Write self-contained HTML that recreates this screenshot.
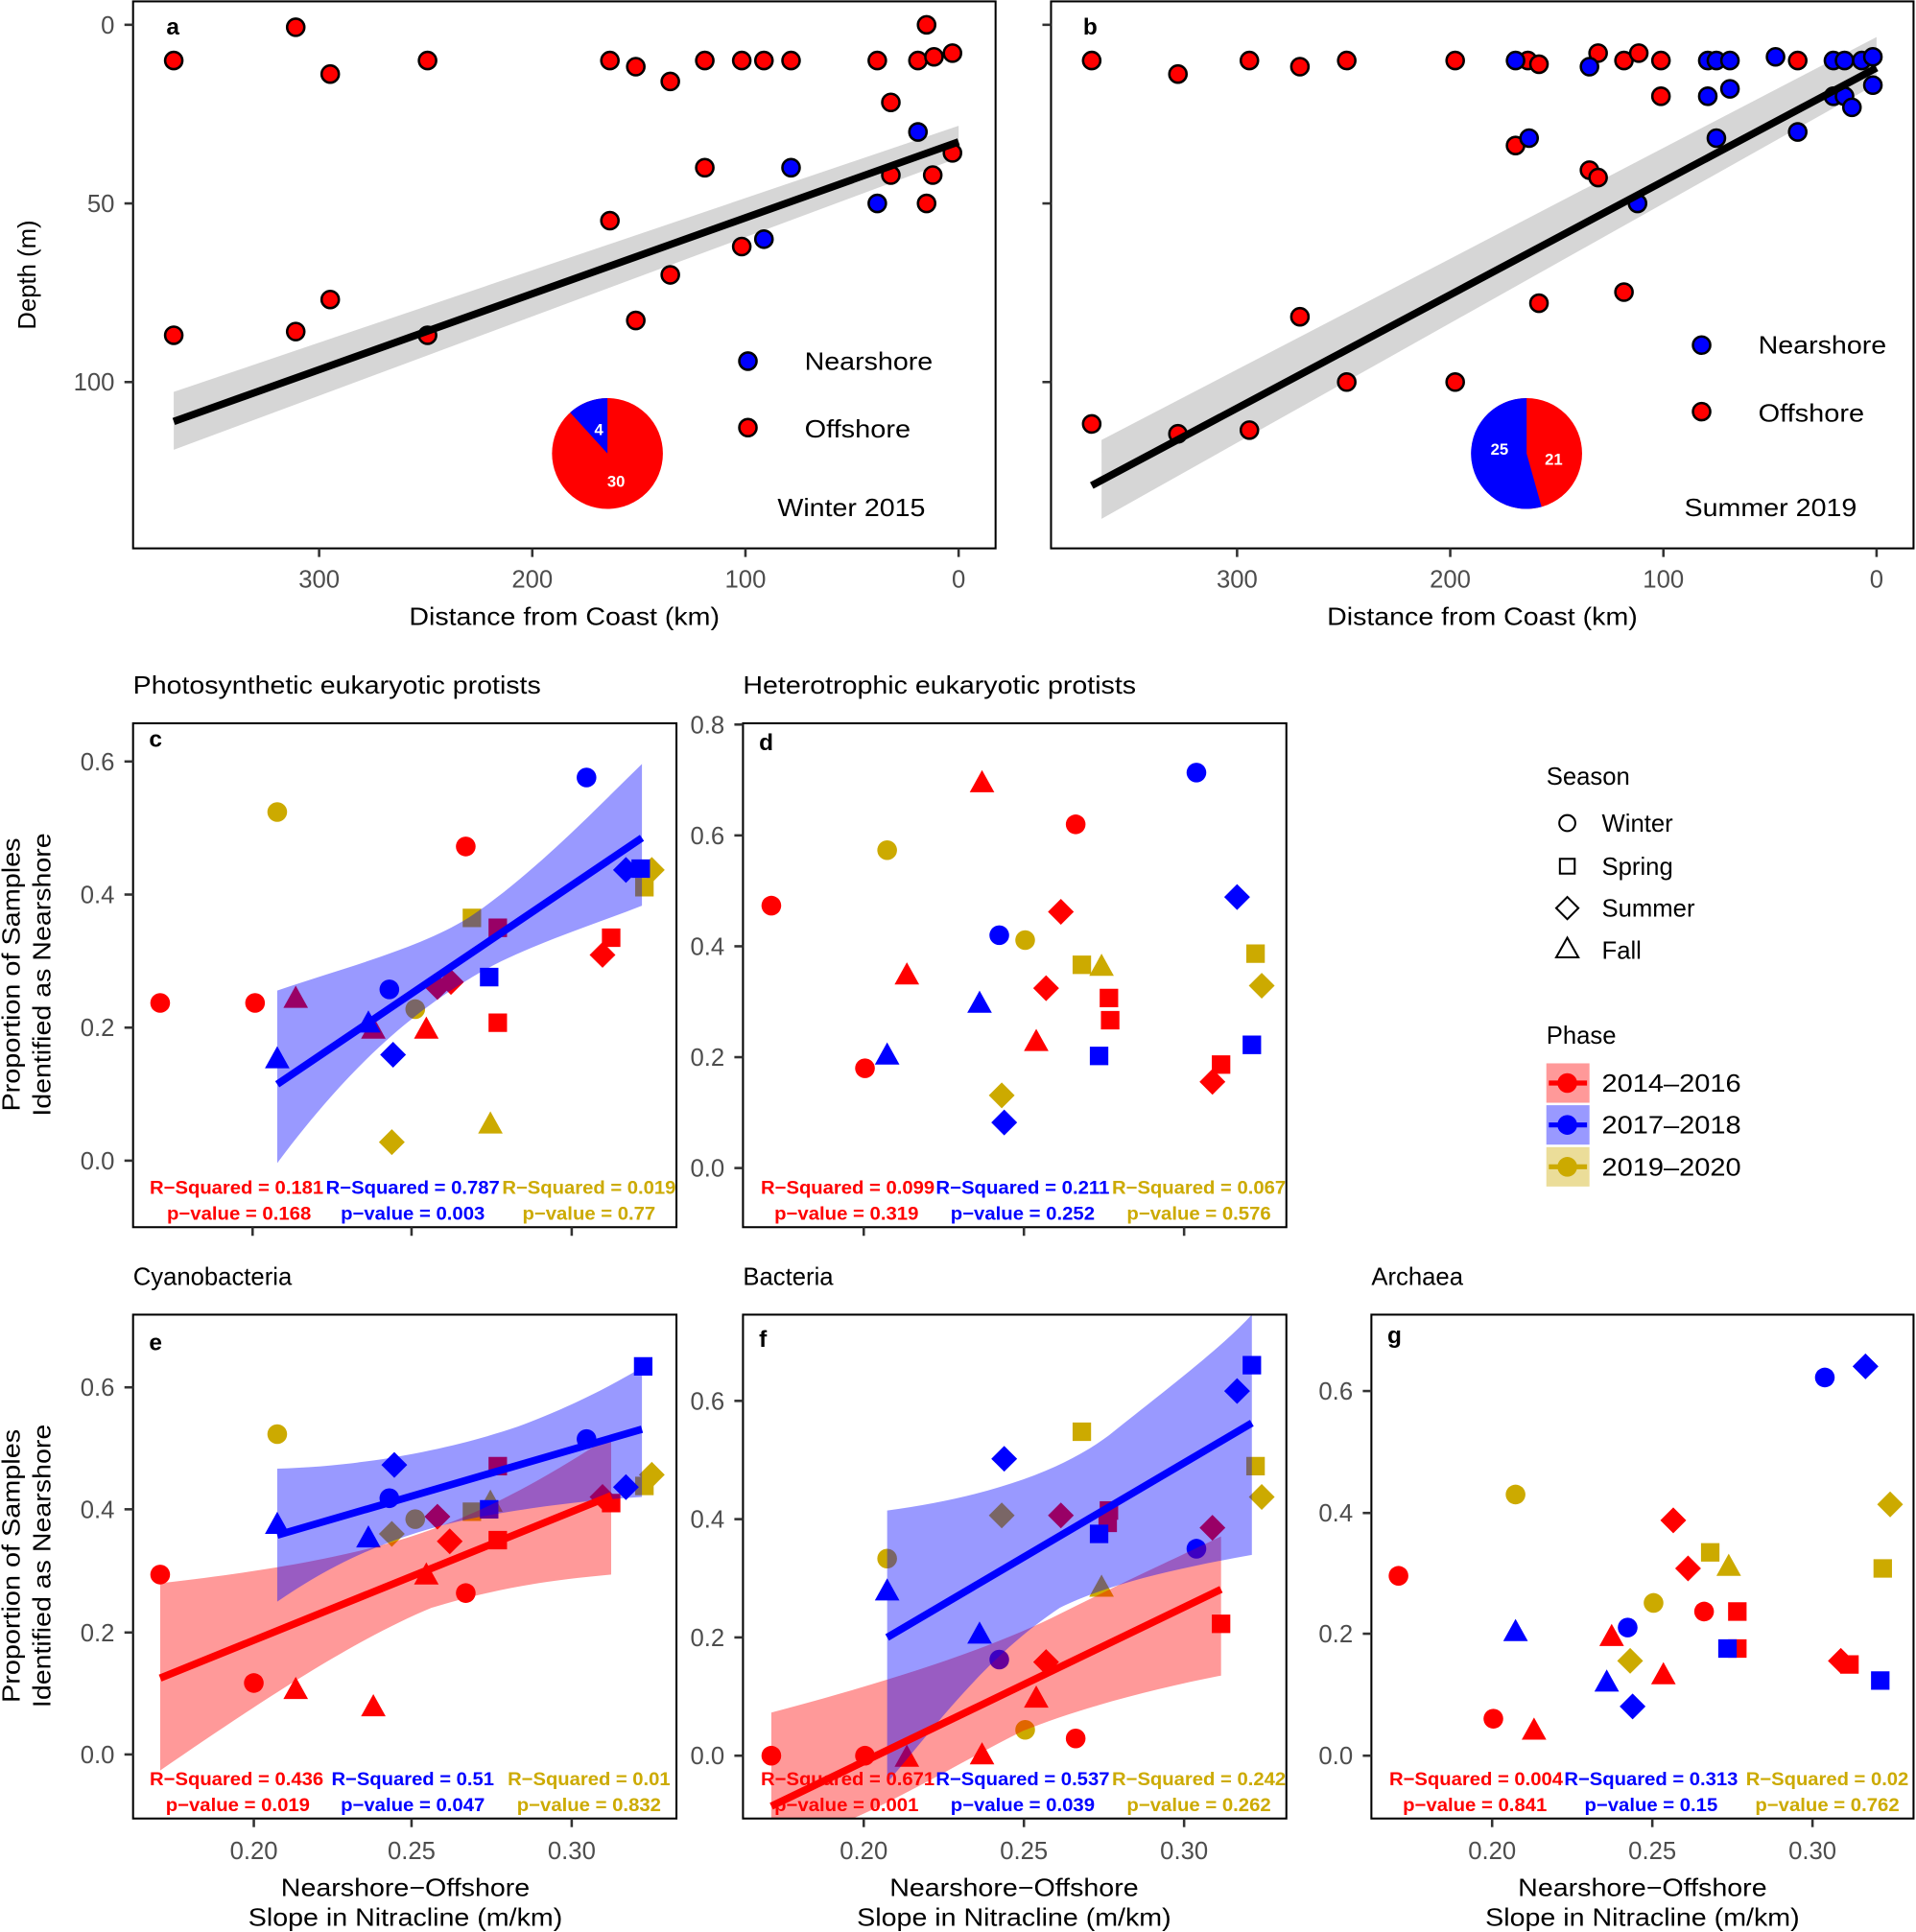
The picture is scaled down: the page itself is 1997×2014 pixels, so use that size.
<!DOCTYPE html>
<html><head><meta charset="utf-8"><style>
html,body{margin:0;padding:0;background:#fff}
svg{display:block}
text{font-family:"Liberation Sans",Arial,sans-serif}
.tk{font-size:20px;fill:#4d4d4d}
.at{font-size:20px;fill:#000}
.pl{font-size:19px;font-weight:bold;fill:#000}
.st{font-size:15px;font-weight:bold}
</style></head><body>
<svg width="1997" height="2014" viewBox="0 0 1555 1568" xmlns="http://www.w3.org/2000/svg">
<defs>
<path id="o" d="M-8,0a8,8 0 1,0 16,0a8,8 0 1,0 -16,0Z"/>
<path id="s" d="M-7.5,-7.5h15v15h-15Z"/>
<path id="d" d="M0,-10.5L10.5,0L0,10.5L-10.5,0Z"/>
<path id="t" d="M0,-11L10,7L-10,7Z"/>
<clipPath id="cf"><rect x="603" y="1067" width="441" height="409"/></clipPath>
</defs>
<rect width="1555" height="1568" fill="#fff"/>

<!-- ===== Panel a ===== -->
<g>
<polygon points="141,318 778,102 778,128 141,365" fill="#d6d6d6"/>
<g stroke="#000" stroke-width="2" fill="#f00">
<circle cx="141" cy="49" r="7"/><circle cx="240" cy="22" r="7"/><circle cx="268" cy="60" r="7"/><circle cx="347" cy="49" r="7"/>
<circle cx="495" cy="49" r="7"/><circle cx="516" cy="54" r="7"/><circle cx="544" cy="66" r="7"/><circle cx="572" cy="49" r="7"/>
<circle cx="602" cy="49" r="7"/><circle cx="620" cy="49" r="7"/><circle cx="642" cy="49" r="7"/><circle cx="712" cy="49" r="7"/>
<circle cx="723" cy="83" r="7"/><circle cx="745" cy="49" r="7"/><circle cx="752" cy="20" r="7"/><circle cx="758" cy="46" r="7"/>
<circle cx="773" cy="43" r="7"/><circle cx="773" cy="124" r="7"/><circle cx="723" cy="142" r="7"/><circle cx="757" cy="142" r="7"/>
<circle cx="752" cy="165" r="7"/><circle cx="572" cy="136" r="7"/><circle cx="495" cy="179" r="7"/><circle cx="602" cy="200" r="7"/>
<circle cx="544" cy="223" r="7"/><circle cx="268" cy="243" r="7"/><circle cx="240" cy="269" r="7"/><circle cx="141" cy="272" r="7"/>
<circle cx="347" cy="272" r="7"/><circle cx="516" cy="260" r="7"/>
</g>
<g stroke="#000" stroke-width="2" fill="#00f">
<circle cx="745" cy="107" r="7"/><circle cx="642" cy="136" r="7"/><circle cx="712" cy="165" r="7"/><circle cx="620" cy="194" r="7"/>
</g>
<line x1="141" y1="342" x2="778" y2="115" stroke="#000" stroke-width="6"/>
<circle cx="493" cy="368" r="45" fill="#f00"/>
<path d="M493,368L493,323A45,45 0 0 0 462.7,334.7Z" fill="#00f"/>
<text x="486" y="353" font-size="13" font-weight="bold" fill="#fff" text-anchor="middle">4</text>
<text x="500" y="395" font-size="13" font-weight="bold" fill="#fff" text-anchor="middle">30</text>
<circle cx="607" cy="293" r="7" fill="#00f" stroke="#000" stroke-width="2"/>
<circle cx="607" cy="347" r="7" fill="#f00" stroke="#000" stroke-width="2"/>
<text x="653" y="300" class="at" textLength="104" lengthAdjust="spacingAndGlyphs">Nearshore</text>
<text x="653" y="355" class="at" textLength="86" lengthAdjust="spacingAndGlyphs">Offshore</text>
<text x="631" y="419" class="at" textLength="120" lengthAdjust="spacingAndGlyphs">Winter 2015</text>
<text x="135" y="28" class="pl">a</text>
<rect x="108" y="1" width="700" height="444" fill="none" stroke="#000" stroke-width="1.6"/>
<g stroke="#333" stroke-width="2"><line x1="101" y1="20" x2="108" y2="20"/><line x1="101" y1="165" x2="108" y2="165"/><line x1="101" y1="310" x2="108" y2="310"/>
<line x1="259" y1="445" x2="259" y2="452"/><line x1="432" y1="445" x2="432" y2="452"/><line x1="605" y1="445" x2="605" y2="452"/><line x1="778" y1="445" x2="778" y2="452"/></g>
<g class="tk" text-anchor="end"><text x="93" y="27">0</text><text x="93" y="172">50</text><text x="93" y="317">100</text></g>
<g class="tk" text-anchor="middle"><text x="259" y="477">300</text><text x="432" y="477">200</text><text x="605" y="477">100</text><text x="778" y="477">0</text></g>
<text x="458" y="507" class="at" text-anchor="middle" textLength="252" lengthAdjust="spacingAndGlyphs">Distance from Coast (km)</text>
<text transform="translate(29,223) rotate(-90)" class="at" text-anchor="middle">Depth (m)</text>
</g>

<!-- ===== Panel b ===== -->
<g>
<polygon points="894,357 1523,30 1523,68 894,421" fill="#d6d6d6"/>
<g stroke="#000" stroke-width="2" fill="#f00">
<circle cx="886" cy="49" r="7"/><circle cx="956" cy="60" r="7"/><circle cx="1014" cy="49" r="7"/><circle cx="1055" cy="54" r="7"/>
<circle cx="1093" cy="49" r="7"/><circle cx="1181" cy="49" r="7"/><circle cx="1240" cy="49" r="7"/><circle cx="1249" cy="52" r="7"/>
<circle cx="1297" cy="43" r="7"/><circle cx="1318" cy="49" r="7"/><circle cx="1330" cy="43" r="7"/><circle cx="1348" cy="49" r="7"/>
<circle cx="1348" cy="78" r="7"/><circle cx="1459" cy="49" r="7"/><circle cx="1230" cy="118" r="7"/><circle cx="1290" cy="138" r="7"/><circle cx="1297" cy="144" r="7"/>
<circle cx="1249" cy="246" r="7"/><circle cx="1318" cy="237" r="7"/><circle cx="1055" cy="257" r="7"/><circle cx="1093" cy="310" r="7"/>
<circle cx="1181" cy="310" r="7"/><circle cx="886" cy="344" r="7"/><circle cx="956" cy="352" r="7"/><circle cx="1014" cy="349" r="7"/>
</g>
<g stroke="#000" stroke-width="2" fill="#00f">
<circle cx="1230" cy="49" r="7"/><circle cx="1290" cy="54" r="7"/><circle cx="1386" cy="49" r="7"/><circle cx="1393" cy="49" r="7"/>
<circle cx="1404" cy="49" r="7"/><circle cx="1441" cy="46" r="7"/><circle cx="1488" cy="49" r="7"/><circle cx="1497" cy="49" r="7"/>
<circle cx="1511" cy="49" r="7"/><circle cx="1520" cy="46" r="7"/><circle cx="1386" cy="78" r="7"/><circle cx="1404" cy="72" r="7"/>
<circle cx="1488" cy="78" r="7"/><circle cx="1497" cy="78" r="7"/><circle cx="1503" cy="87" r="7"/><circle cx="1520" cy="69" r="7"/>
<circle cx="1241" cy="112" r="7"/><circle cx="1393" cy="112" r="7"/><circle cx="1459" cy="107" r="7"/><circle cx="1329" cy="165" r="7"/>
</g>
<line x1="886" y1="394" x2="1523" y2="55" stroke="#000" stroke-width="6"/>
<circle cx="1239" cy="368" r="45" fill="#f00"/>
<path d="M1239,368L1239,323A45,45 0 1 0 1251.1,411.3Z" fill="#00f"/>
<text x="1217" y="369" font-size="13" font-weight="bold" fill="#fff" text-anchor="middle">25</text>
<text x="1261" y="377" font-size="13" font-weight="bold" fill="#fff" text-anchor="middle">21</text>
<circle cx="1381" cy="280" r="7" fill="#00f" stroke="#000" stroke-width="2"/>
<circle cx="1381" cy="334" r="7" fill="#f00" stroke="#000" stroke-width="2"/>
<text x="1427" y="287" class="at" textLength="104" lengthAdjust="spacingAndGlyphs">Nearshore</text>
<text x="1427" y="342" class="at" textLength="86" lengthAdjust="spacingAndGlyphs">Offshore</text>
<text x="1367" y="419" class="at" textLength="140" lengthAdjust="spacingAndGlyphs">Summer 2019</text>
<text x="879" y="28" class="pl">b</text>
<rect x="853" y="1" width="700" height="444" fill="none" stroke="#000" stroke-width="1.6"/>
<g stroke="#333" stroke-width="2"><line x1="846" y1="20" x2="853" y2="20"/><line x1="846" y1="165" x2="853" y2="165"/><line x1="846" y1="310" x2="853" y2="310"/>
<line x1="1004" y1="445" x2="1004" y2="452"/><line x1="1177" y1="445" x2="1177" y2="452"/><line x1="1350" y1="445" x2="1350" y2="452"/><line x1="1523" y1="445" x2="1523" y2="452"/></g>
<g class="tk" text-anchor="middle"><text x="1004" y="477">300</text><text x="1177" y="477">200</text><text x="1350" y="477">100</text><text x="1523" y="477">0</text></g>
<text x="1203" y="507" class="at" text-anchor="middle" textLength="252" lengthAdjust="spacingAndGlyphs">Distance from Coast (km)</text>
</g>

<!-- ===== Panel c ===== -->
<g>
<text x="108" y="563" class="at" textLength="331" lengthAdjust="spacingAndGlyphs">Photosynthetic eukaryotic protists</text>
<g fill="#f00"><use href="#o" x="130" y="814"/><use href="#o" x="207" y="814"/><use href="#o" x="378" y="687"/>
<use href="#t" x="240" y="811"/><use href="#t" x="303" y="836"/><use href="#t" x="346" y="836"/>
<use href="#s" x="404" y="830"/><use href="#s" x="496" y="761"/><use href="#s" x="404" y="753"/>
<use href="#d" x="489" y="775"/><use href="#d" x="355" y="801"/><use href="#d" x="366" y="797"/></g>
<g fill="#ccaa00"><use href="#o" x="225" y="659"/><use href="#o" x="337" y="819"/><use href="#t" x="398" y="913"/>
<use href="#s" x="383" y="745"/><use href="#s" x="523" y="720"/><use href="#d" x="318" y="927"/><use href="#d" x="529" y="706"/></g>
<g fill="#00f"><use href="#o" x="476" y="631"/><use href="#o" x="316" y="803"/><use href="#t" x="225" y="860"/><use href="#t" x="299" y="831"/>
<use href="#s" x="397" y="793"/><use href="#s" x="520" y="705"/><use href="#d" x="319" y="856"/><use href="#d" x="508" y="706"/></g>
<path d="M225,804 C280,785 340,770 380,745 C430,712 480,660 521,620 L521,735 C470,755 420,770 380,795 C330,825 280,870 225,944Z" fill="#00f" fill-opacity="0.4"/>
<line x1="225" y1="880" x2="521" y2="680" stroke="#00f" stroke-width="6"/>
<text x="121" y="606" class="pl">c</text>
<rect x="108" y="587" width="441" height="409" fill="none" stroke="#000" stroke-width="1.6"/>
<g stroke="#333" stroke-width="2"><line x1="101" y1="618" x2="108" y2="618"/><line x1="101" y1="726" x2="108" y2="726"/><line x1="101" y1="834" x2="108" y2="834"/><line x1="101" y1="942" x2="108" y2="942"/>
<line x1="205" y1="996" x2="205" y2="1003"/><line x1="334" y1="996" x2="334" y2="1003"/><line x1="464" y1="996" x2="464" y2="1003"/></g>
<g class="tk" text-anchor="end"><text x="93" y="625">0.6</text><text x="93" y="733">0.4</text><text x="93" y="841">0.2</text><text x="93" y="949">0.0</text></g>
<g class="st" text-anchor="middle" lengthAdjust="spacingAndGlyphs">
<text x="192" y="969" fill="#f00" textLength="141" lengthAdjust="spacingAndGlyphs">R−Squared = 0.181</text><text x="335" y="969" fill="#00f" textLength="141" lengthAdjust="spacingAndGlyphs">R−Squared = 0.787</text><text x="478" y="969" fill="#ccaa00" textLength="141" lengthAdjust="spacingAndGlyphs">R−Squared = 0.019</text>
<text x="194" y="990" fill="#f00" textLength="117" lengthAdjust="spacingAndGlyphs">p−value = 0.168</text><text x="335" y="990" fill="#00f" textLength="117" lengthAdjust="spacingAndGlyphs">p−value = 0.003</text><text x="478" y="990" fill="#ccaa00" textLength="108" lengthAdjust="spacingAndGlyphs">p−value = 0.77</text></g>
<text transform="translate(16,791) rotate(-90)" class="at" text-anchor="middle" textLength="222" lengthAdjust="spacingAndGlyphs">Proportion of Samples</text>
<text transform="translate(41,791) rotate(-90)" class="at" text-anchor="middle" textLength="230" lengthAdjust="spacingAndGlyphs">Identified as Nearshore</text>
</g>

<!-- ===== Panel d ===== -->
<g>
<text x="603" y="563" class="at" textLength="319" lengthAdjust="spacingAndGlyphs">Heterotrophic eukaryotic protists</text>
<g fill="#f00"><use href="#o" x="626" y="735"/><use href="#o" x="702" y="867"/><use href="#o" x="873" y="669"/>
<use href="#t" x="797" y="636"/><use href="#t" x="736" y="792"/><use href="#t" x="841" y="846"/>
<use href="#s" x="900" y="810"/><use href="#s" x="901" y="828"/><use href="#s" x="991" y="864"/>
<use href="#d" x="861" y="740"/><use href="#d" x="849" y="802"/><use href="#d" x="984" y="878"/></g>
<g fill="#ccaa00"><use href="#o" x="720" y="690"/><use href="#o" x="832" y="763"/><use href="#t" x="894" y="785"/>
<use href="#s" x="878" y="783"/><use href="#s" x="1019" y="774"/><use href="#d" x="813" y="889"/><use href="#d" x="1024" y="800"/></g>
<g fill="#00f"><use href="#o" x="811" y="759"/><use href="#o" x="971" y="627"/><use href="#t" x="795" y="815"/><use href="#t" x="720" y="857"/>
<use href="#s" x="892" y="857"/><use href="#s" x="1016" y="848"/><use href="#d" x="815" y="911"/><use href="#d" x="1004" y="728"/></g>
<text x="616" y="609" class="pl">d</text>
<rect x="603" y="587" width="441" height="409" fill="none" stroke="#000" stroke-width="1.6"/>
<g stroke="#333" stroke-width="2"><line x1="596" y1="588" x2="603" y2="588"/><line x1="596" y1="678" x2="603" y2="678"/><line x1="596" y1="768" x2="603" y2="768"/><line x1="596" y1="858" x2="603" y2="858"/><line x1="596" y1="948" x2="603" y2="948"/>
<line x1="701" y1="996" x2="701" y2="1003"/><line x1="831" y1="996" x2="831" y2="1003"/><line x1="961" y1="996" x2="961" y2="1003"/></g>
<g class="tk" text-anchor="end"><text x="588" y="595">0.8</text><text x="588" y="685">0.6</text><text x="588" y="775">0.4</text><text x="588" y="865">0.2</text><text x="588" y="955">0.0</text></g>
<g class="st" text-anchor="middle">
<text x="688" y="969" fill="#f00" textLength="141" lengthAdjust="spacingAndGlyphs">R−Squared = 0.099</text><text x="830" y="969" fill="#00f" textLength="141" lengthAdjust="spacingAndGlyphs">R−Squared = 0.211</text><text x="973" y="969" fill="#ccaa00" textLength="141" lengthAdjust="spacingAndGlyphs">R−Squared = 0.067</text>
<text x="687" y="990" fill="#f00" textLength="117" lengthAdjust="spacingAndGlyphs">p−value = 0.319</text><text x="830" y="990" fill="#00f" textLength="117" lengthAdjust="spacingAndGlyphs">p−value = 0.252</text><text x="973" y="990" fill="#ccaa00" textLength="117" lengthAdjust="spacingAndGlyphs">p−value = 0.576</text></g>
</g>

<!-- ===== Legend ===== -->
<g>
<text x="1255" y="637" class="at">Season</text>
<g fill="none" stroke="#000" stroke-width="1.6">
<circle cx="1272" cy="668" r="6.5"/><rect x="1266" y="697" width="12" height="12"/>
<path d="M1272,728L1281,737L1272,746L1263,737Z"/><path d="M1272,761L1281,777L1263,777Z"/></g>
<g class="at"><text x="1300" y="675">Winter</text><text x="1300" y="710">Spring</text><text x="1300" y="744">Summer</text><text x="1300" y="778">Fall</text></g>
<text x="1255" y="847" class="at">Phase</text>
<rect x="1255" y="863" width="35" height="32" fill="#ff9999"/>
<rect x="1255" y="897" width="35" height="32" fill="#9999ff"/>
<rect x="1255" y="931" width="35" height="32" fill="#ebdd99"/>
<line x1="1257" y1="879" x2="1288" y2="879" stroke="#f00" stroke-width="4"/><circle cx="1272" cy="879" r="8" fill="#f00"/>
<line x1="1257" y1="913" x2="1288" y2="913" stroke="#00f" stroke-width="4"/><circle cx="1272" cy="913" r="8" fill="#00f"/>
<line x1="1257" y1="947" x2="1288" y2="947" stroke="#ccaa00" stroke-width="4"/><circle cx="1272" cy="947" r="8" fill="#ccaa00"/>
<g class="at"><text x="1300" y="886" textLength="113" lengthAdjust="spacingAndGlyphs">2014–2016</text><text x="1300" y="920" textLength="113" lengthAdjust="spacingAndGlyphs">2017–2018</text><text x="1300" y="954" textLength="113" lengthAdjust="spacingAndGlyphs">2019–2020</text></g>
</g>

<!-- ===== Panel e ===== -->
<g>
<text x="108" y="1043" class="at">Cyanobacteria</text>
<g fill="#f00"><use href="#o" x="130" y="1278"/><use href="#o" x="206" y="1366"/><use href="#o" x="378" y="1293"/>
<use href="#t" x="240" y="1372"/><use href="#t" x="303" y="1386"/><use href="#t" x="346" y="1279"/>
<use href="#s" x="404" y="1250"/><use href="#s" x="496" y="1220"/><use href="#s" x="404" y="1190"/>
<use href="#d" x="365" y="1251"/><use href="#d" x="489" y="1215"/><use href="#d" x="355" y="1231"/></g>
<g fill="#ccaa00"><use href="#o" x="225" y="1164"/><use href="#o" x="337" y="1233"/><use href="#t" x="398" y="1220"/>
<use href="#s" x="383" y="1227"/><use href="#s" x="523" y="1206"/><use href="#d" x="318" y="1245"/><use href="#d" x="529" y="1197"/></g>
<g fill="#00f"><use href="#o" x="316" y="1216"/><use href="#o" x="476" y="1168"/><use href="#t" x="225" y="1238"/><use href="#t" x="299" y="1249"/>
<use href="#s" x="397" y="1225"/><use href="#s" x="522" y="1109"/><use href="#d" x="320" y="1189"/><use href="#d" x="508" y="1207"/></g>
<path d="M130,1285 C220,1275 290,1262 340,1245 C400,1225 450,1195 496,1165 L496,1278 C440,1283 400,1290 350,1305 C290,1330 220,1375 130,1437Z" fill="#f00" fill-opacity="0.4"/>
<path d="M225,1192 C300,1190 370,1175 420,1158 C460,1143 490,1128 521,1110 L521,1215 C470,1218 420,1225 380,1233 C330,1244 280,1262 225,1300Z" fill="#00f" fill-opacity="0.4"/>
<line x1="130" y1="1362" x2="496" y2="1214" stroke="#f00" stroke-width="6"/>
<line x1="225" y1="1246" x2="521" y2="1160" stroke="#00f" stroke-width="6"/>
<text x="121" y="1096" class="pl">e</text>
<rect x="108" y="1067" width="441" height="409" fill="none" stroke="#000" stroke-width="1.6"/>
<g stroke="#333" stroke-width="2"><line x1="101" y1="1126" x2="108" y2="1126"/><line x1="101" y1="1225" x2="108" y2="1225"/><line x1="101" y1="1325" x2="108" y2="1325"/><line x1="101" y1="1424" x2="108" y2="1424"/>
<line x1="206" y1="1476" x2="206" y2="1483"/><line x1="334" y1="1476" x2="334" y2="1483"/><line x1="464" y1="1476" x2="464" y2="1483"/></g>
<g class="tk" text-anchor="end"><text x="93" y="1133">0.6</text><text x="93" y="1232">0.4</text><text x="93" y="1332">0.2</text><text x="93" y="1431">0.0</text></g>
<g class="tk" text-anchor="middle"><text x="206" y="1509">0.20</text><text x="334" y="1509">0.25</text><text x="464" y="1509">0.30</text></g>
<g class="st" text-anchor="middle">
<text x="192" y="1449" fill="#f00" textLength="141" lengthAdjust="spacingAndGlyphs">R−Squared = 0.436</text><text x="335" y="1449" fill="#00f" textLength="132" lengthAdjust="spacingAndGlyphs">R−Squared = 0.51</text><text x="478" y="1449" fill="#ccaa00" textLength="132" lengthAdjust="spacingAndGlyphs">R−Squared = 0.01</text>
<text x="193" y="1470" fill="#f00" textLength="117" lengthAdjust="spacingAndGlyphs">p−value = 0.019</text><text x="335" y="1470" fill="#00f" textLength="117" lengthAdjust="spacingAndGlyphs">p−value = 0.047</text><text x="478" y="1470" fill="#ccaa00" textLength="117" lengthAdjust="spacingAndGlyphs">p−value = 0.832</text></g>
<text transform="translate(16,1271) rotate(-90)" class="at" text-anchor="middle" textLength="222" lengthAdjust="spacingAndGlyphs">Proportion of Samples</text>
<text transform="translate(41,1271) rotate(-90)" class="at" text-anchor="middle" textLength="230" lengthAdjust="spacingAndGlyphs">Identified as Nearshore</text>
<text x="329" y="1539" class="at" text-anchor="middle" textLength="202" lengthAdjust="spacingAndGlyphs">Nearshore−Offshore</text>
<text x="329" y="1563" class="at" text-anchor="middle" textLength="255" lengthAdjust="spacingAndGlyphs">Slope in Nitracline (m/km)</text>
</g>

<!-- ===== Panel f ===== -->
<g>
<text x="603" y="1043" class="at">Bacteria</text>
<g fill="#f00"><use href="#o" x="626" y="1425"/><use href="#o" x="702" y="1425"/><use href="#o" x="873" y="1411"/>
<use href="#t" x="736" y="1427"/><use href="#t" x="797" y="1425"/><use href="#t" x="841" y="1379"/>
<use href="#s" x="900" y="1226"/><use href="#s" x="899" y="1236"/><use href="#s" x="991" y="1318"/>
<use href="#d" x="861" y="1230"/><use href="#d" x="849" y="1349"/><use href="#d" x="984" y="1240"/></g>
<g fill="#ccaa00"><use href="#o" x="720" y="1265"/><use href="#o" x="832" y="1404"/><use href="#t" x="894" y="1289"/>
<use href="#s" x="878" y="1162"/><use href="#s" x="1019" y="1190"/><use href="#d" x="813" y="1230"/><use href="#d" x="1024" y="1215"/></g>
<g fill="#00f"><use href="#o" x="811" y="1347"/><use href="#o" x="971" y="1257"/><use href="#t" x="720" y="1292"/><use href="#t" x="795" y="1327"/>
<use href="#s" x="892" y="1245"/><use href="#s" x="1016" y="1108"/><use href="#d" x="815" y="1184"/><use href="#d" x="1004" y="1129"/></g>
<g clip-path="url(#cf)">
<path d="M626,1390 C720,1365 800,1340 860,1310 C920,1280 960,1262 991,1247 L991,1360 C940,1370 880,1385 830,1405 C760,1440 700,1480 626,1500Z" fill="#f00" fill-opacity="0.4"/>
<path d="M720,1226 C800,1215 860,1195 900,1165 C950,1125 990,1095 1016,1067 L1016,1262 C960,1272 900,1285 860,1305 C800,1345 760,1400 720,1447Z" fill="#00f" fill-opacity="0.4"/>
<line x1="626" y1="1466" x2="991" y2="1290" stroke="#f00" stroke-width="6"/>
</g>
<line x1="720" y1="1329" x2="1016" y2="1155" stroke="#00f" stroke-width="6"/>
<text x="616" y="1093" class="pl">f</text>
<rect x="603" y="1067" width="441" height="409" fill="none" stroke="#000" stroke-width="1.6"/>
<g stroke="#333" stroke-width="2"><line x1="596" y1="1137" x2="603" y2="1137"/><line x1="596" y1="1233" x2="603" y2="1233"/><line x1="596" y1="1329" x2="603" y2="1329"/><line x1="596" y1="1425" x2="603" y2="1425"/>
<line x1="701" y1="1476" x2="701" y2="1483"/><line x1="831" y1="1476" x2="831" y2="1483"/><line x1="961" y1="1476" x2="961" y2="1483"/></g>
<g class="tk" text-anchor="end"><text x="588" y="1144">0.6</text><text x="588" y="1240">0.4</text><text x="588" y="1336">0.2</text><text x="588" y="1432">0.0</text></g>
<g class="tk" text-anchor="middle"><text x="701" y="1509">0.20</text><text x="831" y="1509">0.25</text><text x="961" y="1509">0.30</text></g>
<g class="st" text-anchor="middle">
<text x="688" y="1449" fill="#f00" textLength="141" lengthAdjust="spacingAndGlyphs">R−Squared = 0.671</text><text x="830" y="1449" fill="#00f" textLength="141" lengthAdjust="spacingAndGlyphs">R−Squared = 0.537</text><text x="973" y="1449" fill="#ccaa00" textLength="141" lengthAdjust="spacingAndGlyphs">R−Squared = 0.242</text>
<text x="687" y="1470" fill="#f00" textLength="117" lengthAdjust="spacingAndGlyphs">p−value = 0.001</text><text x="830" y="1470" fill="#00f" textLength="117" lengthAdjust="spacingAndGlyphs">p−value = 0.039</text><text x="973" y="1470" fill="#ccaa00" textLength="117" lengthAdjust="spacingAndGlyphs">p−value = 0.262</text></g>
<text x="823" y="1539" class="at" text-anchor="middle" textLength="202" lengthAdjust="spacingAndGlyphs">Nearshore−Offshore</text>
<text x="823" y="1563" class="at" text-anchor="middle" textLength="255" lengthAdjust="spacingAndGlyphs">Slope in Nitracline (m/km)</text>
</g>

<!-- ===== Panel g ===== -->
<g>
<text x="1113" y="1043" class="at">Archaea</text>
<g fill="#f00"><use href="#o" x="1135" y="1279"/><use href="#o" x="1212" y="1395"/><use href="#o" x="1383" y="1308"/>
<use href="#t" x="1245" y="1405"/><use href="#t" x="1308" y="1329"/><use href="#t" x="1350" y="1360"/>
<use href="#s" x="1410" y="1308"/><use href="#s" x="1410" y="1338"/><use href="#s" x="1501" y="1351"/>
<use href="#d" x="1358" y="1234"/><use href="#d" x="1370" y="1273"/><use href="#d" x="1494" y="1348"/></g>
<g fill="#ccaa00"><use href="#o" x="1230" y="1213"/><use href="#o" x="1342" y="1301"/><use href="#t" x="1403" y="1272"/>
<use href="#s" x="1388" y="1260"/><use href="#s" x="1528" y="1273"/><use href="#d" x="1323" y="1348"/><use href="#d" x="1534" y="1221"/></g>
<g fill="#00f"><use href="#o" x="1321" y="1321"/><use href="#o" x="1481" y="1118"/><use href="#t" x="1230" y="1325"/><use href="#t" x="1304" y="1366"/>
<use href="#s" x="1402" y="1338"/><use href="#s" x="1526" y="1364"/><use href="#d" x="1325" y="1385"/><use href="#d" x="1514" y="1109"/></g>
<text x="1126" y="1090" class="pl">g</text>
<rect x="1113" y="1067" width="440" height="409" fill="none" stroke="#000" stroke-width="1.6"/>
<g stroke="#333" stroke-width="2"><line x1="1106" y1="1129" x2="1113" y2="1129"/><line x1="1106" y1="1228" x2="1113" y2="1228"/><line x1="1106" y1="1326" x2="1113" y2="1326"/><line x1="1106" y1="1425" x2="1113" y2="1425"/>
<line x1="1211" y1="1476" x2="1211" y2="1483"/><line x1="1341" y1="1476" x2="1341" y2="1483"/><line x1="1471" y1="1476" x2="1471" y2="1483"/></g>
<g class="tk" text-anchor="end"><text x="1098" y="1136">0.6</text><text x="1098" y="1235">0.4</text><text x="1098" y="1333">0.2</text><text x="1098" y="1432">0.0</text></g>
<g class="tk" text-anchor="middle"><text x="1211" y="1509">0.20</text><text x="1341" y="1509">0.25</text><text x="1471" y="1509">0.30</text></g>
<g class="st" text-anchor="middle">
<text x="1198" y="1449" fill="#f00" textLength="141" lengthAdjust="spacingAndGlyphs">R−Squared = 0.004</text><text x="1340" y="1449" fill="#00f" textLength="141" lengthAdjust="spacingAndGlyphs">R−Squared = 0.313</text><text x="1483" y="1449" fill="#ccaa00" textLength="132" lengthAdjust="spacingAndGlyphs">R−Squared = 0.02</text>
<text x="1197" y="1470" fill="#f00" textLength="117" lengthAdjust="spacingAndGlyphs">p−value = 0.841</text><text x="1340" y="1470" fill="#00f" textLength="108" lengthAdjust="spacingAndGlyphs">p−value = 0.15</text><text x="1483" y="1470" fill="#ccaa00" textLength="117" lengthAdjust="spacingAndGlyphs">p−value = 0.762</text></g>
<text x="1333" y="1539" class="at" text-anchor="middle" textLength="202" lengthAdjust="spacingAndGlyphs">Nearshore−Offshore</text>
<text x="1333" y="1563" class="at" text-anchor="middle" textLength="255" lengthAdjust="spacingAndGlyphs">Slope in Nitracline (m/km)</text>
</g>
</svg>
</body></html>
